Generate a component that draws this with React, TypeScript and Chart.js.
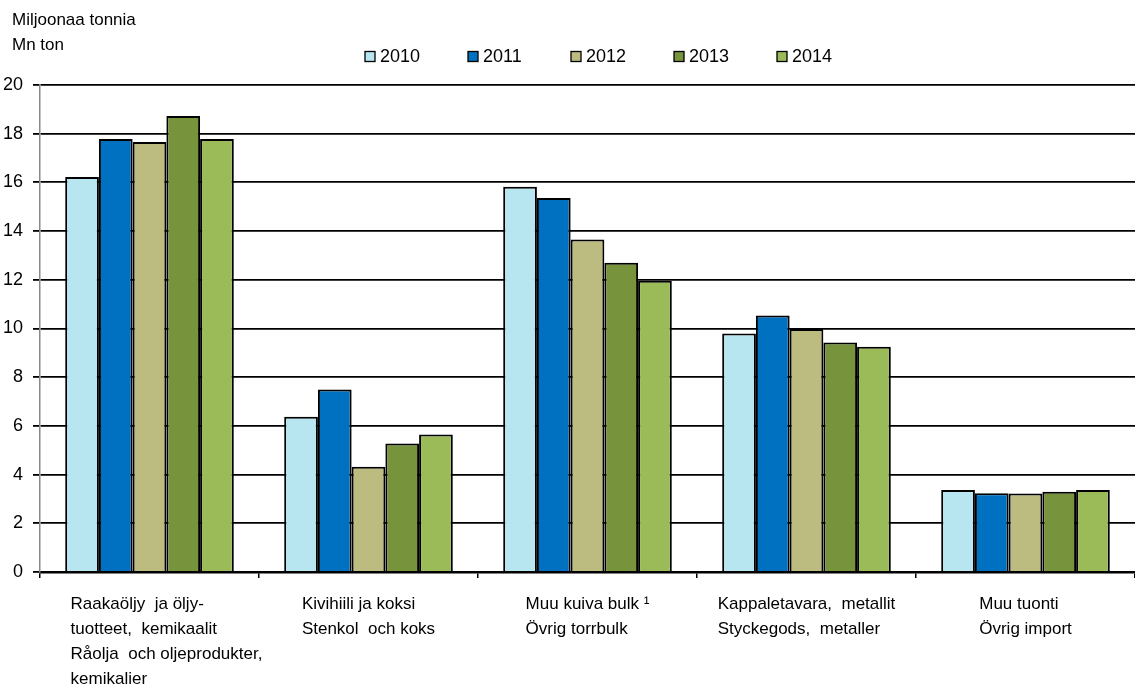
import React, { useEffect, useRef } from "react";
import { Chart, registerables } from "chart.js";

Chart.register(...registerables);

const categories: string[][] = [
  ["Raakaöljy  ja öljy-", "tuotteet,  kemikaalit", "Råolja  och oljeprodukter,", "kemikalier"],
  ["Kivihiili ja koksi", "Stenkol  och koks"],
  ["Muu kuiva bulk ¹", "Övrig torrbulk"],
  ["Kappaletavara,  metallit", "Styckegods,  metaller"],
  ["Muu tuonti", "Övrig import"],
];

const years = ["2010", "2011", "2012", "2013", "2014"];
const values2010 = [16.22, 6.38, 15.82, 9.79, 3.37];
const values2011 = [17.78, 7.5, 15.36, 10.53, 3.23];
const values2012 = [17.66, 4.32, 13.66, 9.98, 3.22];
const values2013 = [18.73, 5.28, 12.7, 9.42, 3.3];
const values2014 = [17.78, 5.65, 11.96, 9.25, 3.37];
const yTicks = [0, 2, 4, 6, 8, 10, 12, 14, 16, 18, 20];
const titleLines = ["Miljoonaa tonnia", "Mn ton"];

const colors = ["#B7E6F1", "#0070C0", "#BDBC80", "#77933C", "#9BBB59"];
const FONT = "Liberation Sans, Arial, sans-serif";

const overlay = {
  id: "overlay",
  afterDraw(chart: any) {
    const ctx = chart.ctx as CanvasRenderingContext2D;
    ctx.save();
    // title
    ctx.fillStyle = "#000";
    ctx.font = `17px ${FONT}`;
    ctx.textAlign = "left";
    ctx.textBaseline = "alphabetic";
    ctx.fillText(titleLines[0], 12, 25);
    ctx.fillText(titleLines[1], 12, 50);
    // legend
    const startX = 365;
    const step = 103;
    ctx.font = `18px ${FONT}`;
    ctx.textBaseline = "middle";
    years.forEach((y, i) => {
      const x = startX + i * step;
      ctx.fillStyle = colors[i];
      ctx.fillRect(x, 51.5, 10, 10);
      ctx.strokeStyle = "#000";
      ctx.lineWidth = 1.3;
      ctx.strokeRect(x, 51.5, 10, 10);
      ctx.fillStyle = "#000";
      ctx.fillText(y, x + 15, 57);
    });
    // x labels
    const xs = chart.scales.x;
    ctx.font = `17px ${FONT}`;
    ctx.textAlign = "left";
    ctx.textBaseline = "middle";
    const shift = [17, 0, 0, 0, 0];
    categories.forEach((lines, i) => {
      const cx = xs.getPixelForValue(i);
      const w = Math.max(...lines.map((l) => ctx.measureText(l).width));
      const left = cx - w / 2 + shift[i];
      lines.forEach((l, j) => {
        ctx.fillText(l, left, 604 + j * 25);
      });
    });
    ctx.restore();
  },
};

export default function App() {
  const ref = useRef<HTMLCanvasElement | null>(null);
  useEffect(() => {
    document.body.style.margin = "0";
    const series = [values2010, values2011, values2012, values2013, values2014];
    const chart = new Chart(ref.current!, {
      type: "bar",
      data: {
        labels: categories.map((c) => c.join(" ")),
        datasets: years.map((y, i) => ({
          label: y,
          data: series[i],
          backgroundColor: colors[i],
          borderColor: "#000",
          borderWidth: 2,
          categoryPercentage: 0.77,
          barPercentage: 1,
        })),
      },
      options: {
        animation: false,
        responsive: false,
        maintainAspectRatio: false,
        layout: { padding: { top: 85, right: 0, left: 0, bottom: 0 } },
        plugins: {
          legend: { display: false },
          title: { display: false },
          tooltip: { enabled: false },
        },
        scales: {
          x: {
            grid: {
              display: true,
              drawOnChartArea: false,
              drawTicks: true,
              tickLength: 6,
              color: "#000",
              lineWidth: 1.5,
              offset: true,
            },
            border: { display: true, color: "#000", width: 2.5 },
            ticks: { display: false },
            afterFit: (s: any) => {
              s.height = 690 - 572;
            },
          },
          y: {
            min: 0,
            max: 20,
            afterBuildTicks: (s: any) => {
              s.ticks = yTicks.map((v) => ({ value: v }));
            },
            grid: {
              color: "#000",
              lineWidth: 1.8,
              drawTicks: true,
              tickLength: 7,
            },
            border: { display: true, color: "#888", width: 1.5 },
            ticks: {
              color: "#000",
              font: { size: 18, family: FONT },
              padding: 10,
            },
            afterFit: (s: any) => {
              s.width = 40;
            },
          },
        },
      },
      plugins: [overlay],
    });
    return () => chart.destroy();
  }, []);
  return (
    <div style={{ position: "absolute", left: 0, top: 0, width: 1135, height: 690 }}>
      <canvas ref={ref} width={1135} height={690} style={{ width: 1135, height: 690 }} />
    </div>
  );
}
